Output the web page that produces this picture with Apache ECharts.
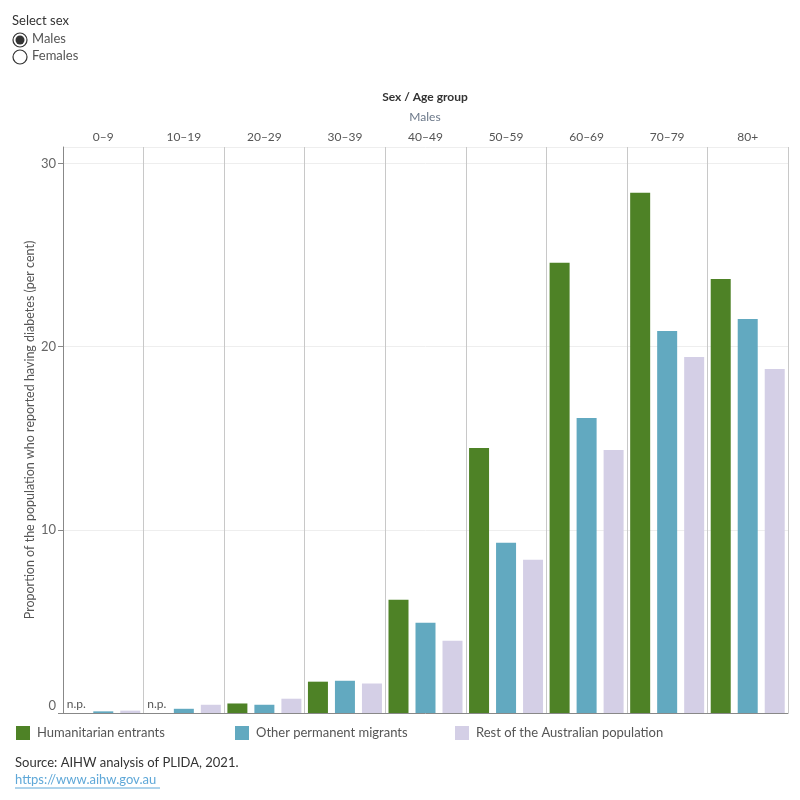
<!DOCTYPE html>
<html>
<head>
<meta charset="utf-8">
<script src="https://cdn.jsdelivr.net/npm/echarts@6/dist/echarts.min.js"></script>
<style>html,body{margin:0;padding:0;background:#fff}#c{width:800px;height:800px}</style>
</head>
<body>
<div id="c"></div>
<script>
var categories = ['0–9','10–19','20–29','30–39','40–49','50–59','60–69','70–79','80+'];
var humanitarian = [null, null, 0.52, 1.71, 6.18, 14.47, 24.58, 28.4, 23.7];
var otherPermanent = [0.09, 0.23, 0.45, 1.76, 4.93, 9.29, 16.11, 20.86, 21.51];
var restAustralian = [0.13, 0.45, 0.78, 1.61, 3.94, 8.36, 14.36, 19.44, 18.78];
var seriesNames = ['Humanitarian entrants', 'Other permanent migrants', 'Rest of the Australian population'];
var colors = ['#4e8226', '#62a9c0', '#d4cfe6'];

var FONT = 'Lato';
var chart = echarts.init(document.getElementById('c'));

function heData() {
  return humanitarian.map(function (v) {
    if (v === null) {
      return { value: 0, label: { show: true, formatter: 'n.p.', position: 'top', distance: 3, color: '#555', fontSize: 12, fontFamily: FONT } };
    }
    return v;
  });
}

function legendAt(left, name) {
  return {
    left: left, top: 726, padding: 0, icon: 'rect', itemWidth: 14, itemHeight: 14, itemGap: 0,
    data: [name], selectedMode: false,
    textStyle: { color: '#555', fontSize: 13, fontFamily: FONT, padding: [0, 0, 0, 2] }
  };
}

var option = {
  animation: false,
  textStyle: { fontFamily: FONT },
  color: colors,
  legend: [legendAt(16, seriesNames[0]), legendAt(235, seriesNames[1]), legendAt(455, seriesNames[2])],
  grid: { left: 63, right: 12, top: 147, bottom: 87 },
  xAxis: [
    {
      type: 'category', data: categories, position: 'top',
      axisLine: { show: false }, axisTick: { show: false },
      axisLabel: { color: '#555', fontSize: 12, margin: 4, fontFamily: FONT },
      splitLine: { show: true, interval: 0, lineStyle: { color: '#c8c8c8', width: 1 } }
    },
    {
      type: 'category', data: categories, position: 'bottom',
      axisLine: { show: true, lineStyle: { color: '#888', width: 1 } },
      axisTick: { show: false }, axisLabel: { show: false }, splitLine: { show: false }
    }
  ],
  yAxis: {
    type: 'value', min: 0, max: 30.9, interval: 10,
    name: 'Proportion of the population who reported having diabetes (per cent)',
    nameLocation: 'middle', nameGap: 27, nameMoveOverlap: false,
    nameTextStyle: { color: '#555', fontSize: 12.5, fontFamily: FONT },
    axisLine: { show: true, lineStyle: { color: '#888' } },
    axisTick: { show: true, length: 5, lineStyle: { color: '#888' } },
    axisLabel: {
      color: '#666', fontSize: 13, margin: 7, fontFamily: FONT, showMaxLabel: false,
      formatter: function (v) { return v === 0 ? '{z|0}' : String(v); },
      rich: { z: { color: '#666', fontSize: 13, fontFamily: FONT, padding: [0, 0, 14, 0] } }
    },
    splitLine: { show: true, lineStyle: { color: '#eee' } }
  },
  series: [
    { name: seriesNames[0], type: 'bar', xAxisIndex: 0, data: heData(), barWidth: 20, barGap: '35%' },
    { name: seriesNames[1], type: 'bar', xAxisIndex: 0, data: otherPermanent, barWidth: 20, barGap: '35%' },
    { name: seriesNames[2], type: 'bar', xAxisIndex: 0, data: restAustralian, barWidth: 20, barGap: '35%' }
  ],
  graphic: [
    { type: 'text', left: 12, top: 14, style: { text: 'Select sex', fill: '#333', font: '13px ' + FONT } },
    { type: 'circle', shape: { cx: 20, cy: 40, r: 7 }, style: { fill: '#fff', stroke: '#333', lineWidth: 1.2 } },
    { type: 'circle', shape: { cx: 20, cy: 40, r: 4.5 }, style: { fill: '#333' } },
    { type: 'text', left: 32, top: 32, style: { text: 'Males', fill: '#555', font: '13px ' + FONT } },
    { type: 'circle', shape: { cx: 20, cy: 57, r: 7 }, style: { fill: '#fff', stroke: '#333', lineWidth: 1.2 } },
    { type: 'text', left: 32, top: 49, style: { text: 'Females', fill: '#555', font: '13px ' + FONT } },
    { type: 'text', x: 425, y: 97, style: { text: 'Sex / Age group', fill: '#333', font: 'bold 12px ' + FONT, align: 'center', verticalAlign: 'middle' } },
    { type: 'text', x: 425, y: 117, style: { text: 'Males', fill: '#6a7788', font: '12px ' + FONT, align: 'center', verticalAlign: 'middle' } },
    { type: 'text', left: 15, top: 756, style: { text: 'Source: AIHW analysis of PLIDA, 2021.', fill: '#333', font: '13px ' + FONT } },
    { type: 'text', left: 15, top: 773, style: { text: 'https://www.aihw.gov.au', fill: '#5fa8d8', font: '13px ' + FONT } },
    { type: 'line', shape: { x1: 15, y1: 788, x2: 160, y2: 788 }, style: { stroke: '#5fa8d8', lineWidth: 1 } }
  ]
};
chart.setOption(option);
</script>
</body>
</html>
